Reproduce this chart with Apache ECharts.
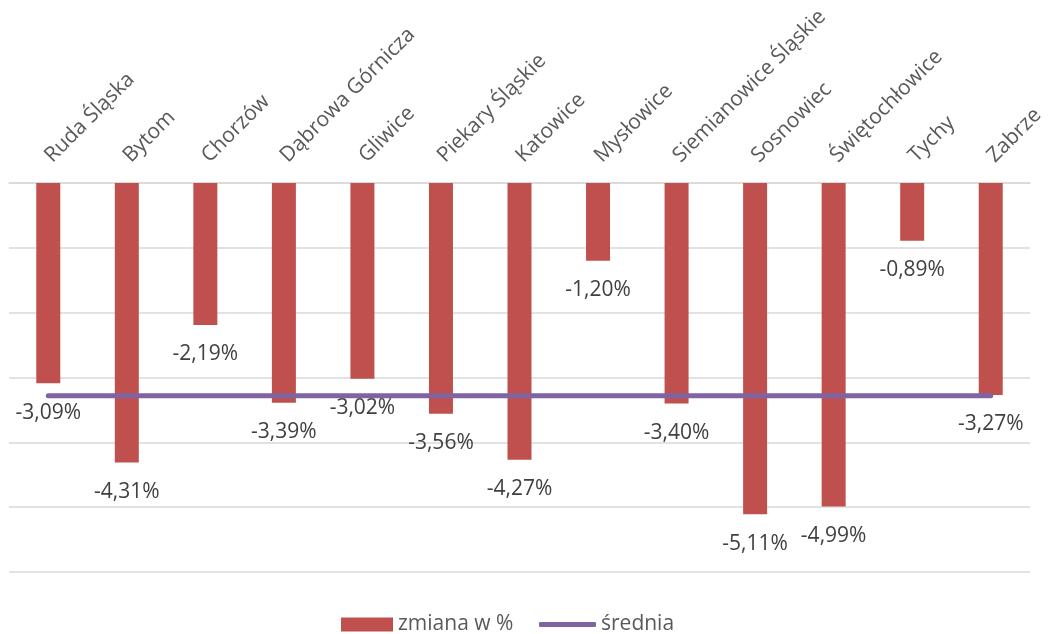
<!DOCTYPE html>
<html><head><meta charset="utf-8">
<script src="https://cdn.jsdelivr.net/npm/echarts@6/dist/echarts.min.js"></script>
<style>html,body{margin:0;padding:0;background:#fff}#c{width:1051px;height:634px}</style>
</head><body><div id="c"></div>
<script>
const categories = ['Ruda Śląska','Bytom','Chorzów','Dąbrowa Górnicza','Gliwice','Piekary Śląskie','Katowice','Mysłowice','Siemianowice Śląskie','Sosnowiec','Świętochłowice','Tychy','Zabrze'];
const zmiana = [-3.09,-4.31,-2.19,-3.39,-3.02,-3.56,-4.27,-1.20,-3.40,-5.11,-4.99,-0.89,-3.27];
const srednia = [-3.28,-3.28,-3.28,-3.28,-3.28,-3.28,-3.28,-3.28,-3.28,-3.28,-3.28,-3.28,-3.28];
const yTicks = [0,-1,-2,-3,-4,-5,-6];

const chart = echarts.init(document.getElementById('c'));
const font = '"Open Sans", sans-serif';
chart.setOption({
  animation:false,
  textStyle:{fontFamily:font},
  grid:{left:9,right:21,top:183,bottom:62,containLabel:false},
  xAxis:{type:'category',data:categories,position:'top',
    axisLine:{show:true,lineStyle:{color:'#d9d9d9',width:1.5}},
    axisTick:{show:false},
    axisLabel:{rotate:45,fontSize:21,color:'#595959',fontFamily:font,margin:24,interval:0}},
  yAxis:{type:'value',min:yTicks[yTicks.length-1],max:yTicks[0],interval:1,
    axisLabel:{show:false},axisLine:{show:false},axisTick:{show:false},
    splitLine:{lineStyle:{color:'#d9d9d9',width:1.5}}},
  legend:[
    {top:609,left:336,itemWidth:52,itemHeight:14,itemGap:28,
     textStyle:{fontSize:21,color:'#595959',fontFamily:font},
     data:[{name:'zmiana w %',icon:'rect'}]},
    {top:609,left:534,itemWidth:57,itemHeight:5,
     textStyle:{fontSize:21,color:'#595959',fontFamily:font},
     data:[{name:'średnia',icon:'roundRect'}]}
  ],
  series:[
    {name:'zmiana w %',type:'bar',data:zmiana,barWidth:24,
     itemStyle:{color:'#C0504D'},
     label:{show:true,position:'bottom',distance:19,fontSize:21,color:'#404040',fontFamily:font,
       formatter:p=>p.value.toFixed(2).replace('.',',')+'%'}},
    {name:'średnia',type:'line',data:srednia,symbol:'none',
     lineStyle:{color:'#8064A2',width:5,cap:'round'},itemStyle:{color:'#8064A2'},z:5}
  ]
});
</script></body></html>
